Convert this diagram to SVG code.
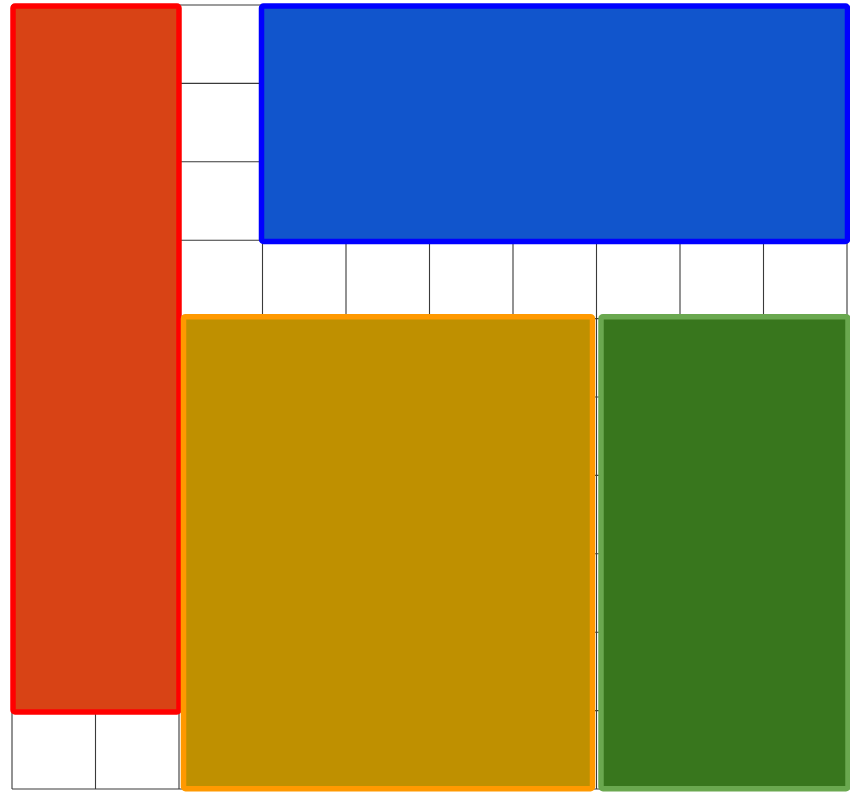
<svg xmlns="http://www.w3.org/2000/svg" width="850" height="793" viewBox="0 0 850 793">
<style>
.g{stroke:#3a3a3a;stroke-width:1.1;fill:none}
.b{stroke-width:5.5}
</style>
<rect width="850" height="793" fill="#fff"/>
<g id="grid" class="g">
<path d="M12 5V789M95.5 5V789M179 5V789M262.5 5V789M346 5V789M429.5 5V789M513 5V789M596.5 5V789M680 5V789M763.5 5V789M847 5V789"/>
<path d="M12 5H847M12 83.4H847M12 161.8H847M12 240.2H847M12 318.6H847M12 397H847M12 475.4H847M12 553.8H847M12 632.2H847M12 710.6H847M12 789H847"/>
</g>
<g id="red"><rect class="b" x="13" y="6" width="166" height="706" rx="2" fill="#d84315" stroke="#ff0000"/></g>
<g id="blue"><rect class="b" x="261.5" y="6" width="586" height="235.5" rx="2" fill="#1155cc" stroke="#0000ff"/></g>
<g id="orange"><rect class="b" x="183.5" y="316.7" width="409" height="472" rx="2" fill="#bf9000" stroke="#ff9900"/></g>
<g id="green"><rect class="b" x="601" y="316.7" width="247" height="472" rx="2" fill="#38761d" stroke="#6aa84f"/></g>
</svg>
